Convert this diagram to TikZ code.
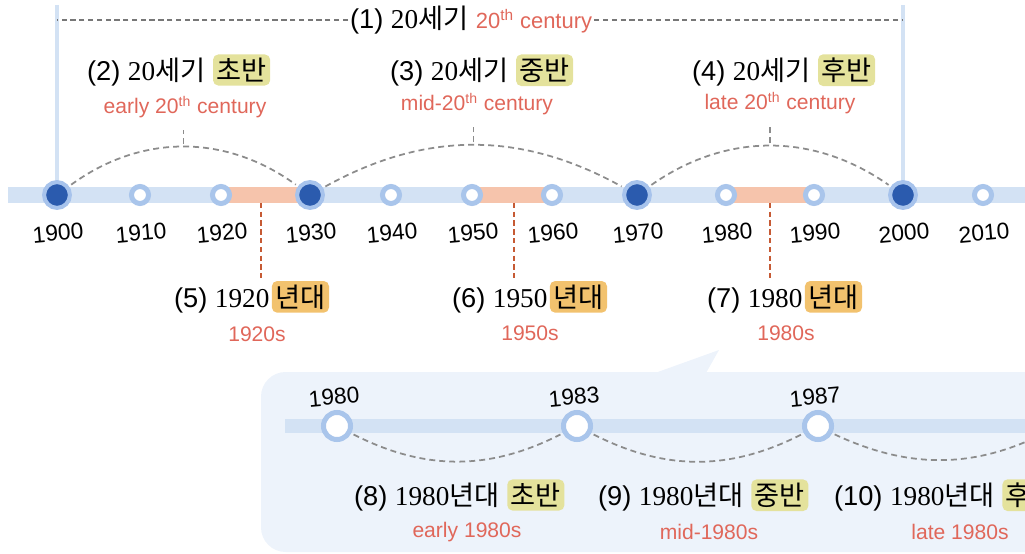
\documentclass[tikz,border=0pt]{standalone}
\usepackage{fontspec}
\setmainfont{Liberation Sans}
\newfontfamily\kr{Noto Sans CJK KR}
\newfontfamily\serifnum{Liberation Serif}
\usetikzlibrary{positioning, backgrounds}
\definecolor{barblue}{HTML}{D3E2F4}
\definecolor{dotblue}{HTML}{2B5BAE}
\definecolor{haloblue}{HTML}{A7C3EC}
\definecolor{ringblue}{HTML}{A9C5EB}
\definecolor{segorange}{HTML}{F6C4AC}
\definecolor{lineorange}{HTML}{C65A34}
\definecolor{subred}{HTML}{E0675A}
\definecolor{hlgreen}{HTML}{E4E29C}
\definecolor{hlorange}{HTML}{F2C26E}
\definecolor{dashgray}{HTML}{8C8C8C}
\definecolor{panelblue}{HTML}{EDF3FB}
\newcommand\kk[1]{{\kr #1}}
\newcommand\nn[1]{{\serifnum #1}}

\begin{document}
\begin{tikzpicture}[x=0.02cm, y=0.02cm, font=\fontsize{15.5}{18}\selectfont,
    bigdot/.style={circle, inner sep=0pt, minimum size=14.7pt, fill=dotblue, draw=haloblue, line width=2.3pt},
    opendot/.style={circle, inner sep=0pt, minimum size=9.7pt, fill=white, draw=ringblue, line width=2.85pt},
    zoomdot/.style={circle, inner sep=0pt, minimum size=15.4pt, fill=white, draw=ringblue, line width=2.85pt},
    yearlbl/.style={rotate=5, font=\fontsize{13}{15}\selectfont},
    title/.style={anchor=west, inner sep=1pt},
    hlg/.style={fill=hlgreen, rounded corners=3pt, inner sep=2pt},
    hlo/.style={fill=hlorange, rounded corners=3pt, inner sep=2pt},
    sub/.style={text=subred, font=\fontsize{12}{14}\selectfont},
    arcdash/.style={dashgray, line width=1pt, dash pattern=on 3.4pt off 2.3pt, shorten <=1.5pt, shorten >=1.5pt},
    topdash/.style={dashgray!85!black, line width=0.8pt, dash pattern=on 3pt off 2pt},
    orangedash/.style={lineorange, line width=0.9pt, dash pattern=on 3pt off 2pt},
    bar/.style={barblue, line width=9.1pt},
    segbar/.style={segorange, line width=9.1pt}]
    \useasboundingbox (0,0) rectangle (1025,-554);
    \clip (0,0) rectangle (1025,-554);

    % decades on the main line
    \foreach \yy/\xx/\kind in {1900/57/bigdot, 1910/140/opendot, 1920/221/opendot, 1930/310/bigdot,
        1940/391/opendot, 1950/472/opendot, 1960/552/opendot, 1970/637/bigdot,
        1980/726/opendot, 1990/814/opendot, 2000/903/bigdot, 2010/983/opendot}{
        \node[\kind] (d\yy) at (\xx,-195) {};
        \node[yearlbl] (l\yy) at (\xx+1,-233) {\yy};
    }
    \coordinate (barL) at (8,-195);
    \coordinate (barR) at (1030,-195);
    \coordinate (topL) at (57,-5);
    \coordinate (topR) at (903,-5);

    % (1) whole century
    \node[title] (t1) at (348,-20) {(1) \nn{20}\kk{세기} \textcolor{subred}{\fontsize{12.5}{14}\selectfont 20\textsuperscript{th} century}};
    \draw[topdash] (t1.west) -- (topL |- t1.west);
    \draw[topdash] (t1.east) -- (topR |- t1.east);

    % (2)-(4) parts of the century
    \node[title] (t2) at (85,-72) {(2) \nn{20}\kk{세기}};
    \node[hlg, base right=3pt of t2] (h2) {\kk{초반}};
    \node[sub] (s2) at (185,-107) {early 20\textsuperscript{th} century};
    \node[title] (t3) at (388,-72) {(3) \nn{20}\kk{세기}};
    \node[hlg, base right=3pt of t3] (h3) {\kk{중반}};
    \node[sub] (s3) at (477,-104) {mid-20\textsuperscript{th} century};
    \node[title] (t4) at (690,-72) {(4) \nn{20}\kk{세기}};
    \node[hlg, base right=3pt of t4] (h4) {\kk{후반}};
    \node[sub] (s4) at (780,-103) {late 20\textsuperscript{th} century};

    \draw[arcdash] (d1900) to[bend left=36] coordinate[pos=.5] (m2) (d1930);
    \draw[arcdash] (d1930) to[bend left=29] coordinate[pos=.5] (m3) (d1970);
    \draw[arcdash] (d1970) to[bend left=35] coordinate[pos=.5] (m4) (d2000);
    \foreach \k in {2,3,4}
        \draw[arcdash, shorten >=3pt] (m\k) -- (m\k |- s\k.south);

    % (5)-(7) decades
    \node[title] (t5) at (172,-300) {(5) \nn{1920}};
    \node[hlo, base right=0pt of t5] (h5) {\kk{년대}};
    \node[sub] (s5) at (257,-334) {1920s};
    \node[title] (t6) at (450,-300) {(6) \nn{1950}};
    \node[hlo, base right=0pt of t6] (h6) {\kk{년대}};
    \node[sub] (s6) at (530,-333) {1950s};
    \node[title] (t7) at (705,-300) {(7) \nn{1980}};
    \node[hlo, base right=0pt of t7] (h7) {\kk{년대}};
    \node[sub] (s7) at (786,-333) {1980s};

    % zoom on the 1980s
    \foreach \yy/\xx in {1980/337, 1983/577, 1987/818}{
        \node[zoomdot] (z\yy) at (\xx,-426) {};
        \node[yearlbl] (zl\yy) at (\xx-3,-397) {\yy};
    }
    \coordinate (z1990) at (1058,-426);
    \coordinate (zbarL) at (285,-426);
    \coordinate (zbarR) at (1060,-426);

    \draw[arcdash] (z1980) to[bend right=27] (z1983);
    \draw[arcdash] (z1983) to[bend right=27] (z1987);
    \draw[arcdash] (z1987) to[bend right=27] (z1990);

    \node[title] (t8) at (352,-497) {(8) \nn{1980}\kk{년대}};
    \node[hlg, base right=3pt of t8] (h8) {\kk{초반}};
    \node[sub] (s8) at (467,-532) {early 1980s};
    \node[title] (t9) at (596,-497) {(9) \nn{1980}\kk{년대}};
    \node[hlg, base right=3pt of t9] (h9) {\kk{중반}};
    \node[sub] (s9) at (709,-532) {mid-1980s};
    \node[title] (t10) at (832,-497) {(10) \nn{1980}\kk{년대}};
    \node[hlg, base right=3pt of t10] (h10) {\kk{후반}};
    \node[sub] (s10) at (960,-532) {late 1980s};

    \begin{scope}[on background layer]
        \fill[panelblue, rounded corners=14pt] (261,-372) rectangle (1100,-552);
        \fill[panelblue] (655,-373) -- (719,-350) -- (706,-373) -- cycle;
        \draw[bar] (barL) -- (barR);
        \draw[barblue, line width=2.3pt] (topL) -- (d1900.center);
        \draw[barblue, line width=2.3pt] (topR) -- (d2000.center);
        \draw[segbar] (d1920.center) -- coordinate[pos=.45] (m5) (d1930.center);
        \draw[segbar] (d1950.center) -- coordinate[pos=.525] (m6) (d1960.center);
        \draw[segbar] (d1980.center) -- coordinate[pos=.5] (m7) (d1990.center);
        \draw[barblue, line width=8.5pt] (zbarL) -- (zbarR);
    \end{scope}
    \foreach \k in {5,6,7}
        \draw[orangedash, shorten <=4.5pt, shorten >=3pt] (m\k) -- (m\k |- t\k.north);
\end{tikzpicture}
\end{document}
